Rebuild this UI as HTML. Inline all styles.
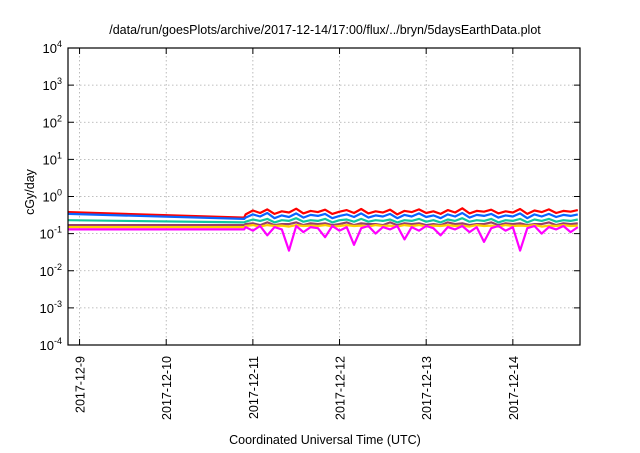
<!DOCTYPE html>
<html><head><meta charset="utf-8"><style>
body{margin:0;background:#fff;}
svg text{font-family:"Liberation Sans",sans-serif;fill:#000;}
</style></head><body>
<svg id="chart" width="640" height="448" viewBox="0 0 640 448" xmlns="http://www.w3.org/2000/svg">
<rect width="640" height="448" fill="#fff"/>
<text x="325" y="34" font-size="12.5" text-anchor="middle">/data/run/goesPlots/archive/2017-12-14/17:00/flux/../bryn/5daysEarthData.plot</text>
<text transform="translate(34,192) rotate(-90)" font-size="12.5" text-anchor="middle">cGy/day</text>
<text x="325" y="444" font-size="12.5" text-anchor="middle">Coordinated Universal Time (UTC)</text>
<g id="grid"></g><g id="series"></g><g id="axes"></g>
</svg>
<script>
const xTickLabels=["2017-12-9","2017-12-10","2017-12-11","2017-12-12","2017-12-13","2017-12-14"];
const xTickHours=[24,48,72,96,120,144];
const yTickExps=[-4,-3,-2,-1,0,1,2,3,4];
const times=[20.9,69.6,70,72,74,76,78,80,82,84,86,88,90,92,94,96,98,100,102,104,106,108,110,112,114,116,118,120,122,124,126,128,130,132,134,136,138,140,142,144,146,148,150,152,154,156,158,160,162];
const redVals=[0.38,0.27,0.33,0.42,0.36,0.45,0.34,0.40,0.37,0.47,0.35,0.41,0.38,0.44,0.34,0.39,0.43,0.36,0.46,0.35,0.40,0.37,0.44,0.33,0.41,0.38,0.45,0.36,0.40,0.34,0.43,0.37,0.48,0.35,0.41,0.39,0.44,0.35,0.40,0.37,0.46,0.34,0.42,0.38,0.45,0.36,0.41,0.39,0.43];
const blueVals=[0.34,0.25,0.27,0.33,0.29,0.36,0.26,0.31,0.28,0.35,0.27,0.32,0.30,0.34,0.26,0.30,0.33,0.28,0.35,0.27,0.31,0.29,0.34,0.26,0.32,0.29,0.35,0.28,0.31,0.26,0.33,0.29,0.36,0.27,0.32,0.30,0.34,0.27,0.31,0.29,0.35,0.26,0.33,0.29,0.34,0.28,0.32,0.30,0.33];
const greenVals=[0.23,0.20,0.21,0.24,0.22,0.25,0.20,0.23,0.22,0.26,0.21,0.23,0.22,0.25,0.20,0.23,0.24,0.21,0.25,0.21,0.23,0.22,0.24,0.20,0.23,0.22,0.25,0.21,0.23,0.20,0.24,0.22,0.26,0.21,0.23,0.22,0.25,0.20,0.23,0.22,0.25,0.20,0.24,0.22,0.25,0.21,0.23,0.22,0.24];
const brownVals=[0.17,0.17,0.18,0.19,0.17,0.20,0.17,0.18,0.18,0.20,0.17,0.19,0.18,0.19,0.17,0.18,0.20,0.17,0.19,0.18,0.18,0.17,0.20,0.17,0.19,0.18,0.19,0.17,0.18,0.17,0.20,0.18,0.19,0.17,0.18,0.18,0.20,0.17,0.19,0.18,0.19,0.17,0.18,0.18,0.20,0.17,0.19,0.18,0.19];
const yellowVals=[0.15,0.15,0.16,0.17,0.155,0.17,0.16,0.165,0.155,0.17,0.16,0.165,0.16,0.17,0.155,0.16,0.17,0.16,0.165,0.155,0.17,0.16,0.165,0.155,0.17,0.16,0.17,0.155,0.165,0.16,0.17,0.16,0.165,0.155,0.17,0.16,0.165,0.155,0.17,0.16,0.165,0.16,0.17,0.155,0.165,0.16,0.17,0.16,0.165];
const magentaVals=[0.13,0.13,0.15,0.12,0.16,0.09,0.15,0.13,0.035,0.16,0.11,0.15,0.14,0.08,0.16,0.12,0.15,0.05,0.14,0.16,0.10,0.15,0.13,0.16,0.07,0.15,0.12,0.16,0.14,0.09,0.15,0.13,0.16,0.11,0.15,0.06,0.14,0.16,0.12,0.15,0.035,0.14,0.16,0.10,0.15,0.13,0.16,0.11,0.15];
const seriesNames=["red","blue","green","brown","yellow","magenta"];
const seriesColors=["#ff0000","#0a64ff","#10c8a0","#993f6a","#ffd000","#ff00ff"];
const L=68,R=580,T=48,B=345,H0=20.8,H1=162.6;
function xs(h){return L+(h-H0)/(H1-H0)*(R-L);}
function ys(v){return B-(Math.log10(v)+4)/8*(B-T);}
const NS="http://www.w3.org/2000/svg";
function mk(p,tag,a){const e=document.createElementNS(NS,tag);for(const k in a)e.setAttribute(k,a[k]);p.appendChild(e);return e;}
const grid=document.getElementById('grid'),axes=document.getElementById('axes'),ser=document.getElementById('series');
yTickExps.forEach(e=>{const y=ys(Math.pow(10,e));
 if(e>-4&&e<4){const g=mk(grid,'line',{x1:L,x2:R,y1:y,y2:y,stroke:'#aaa','stroke-width':0.8,'stroke-dasharray':'1.5,2.5'});
 
 }
 const t1=mk(axes,'line',{x1:L,x2:L+6,y1:y,y2:y,stroke:'#000'});
 
 
 const t2=mk(axes,'line',{x1:R-6,x2:R,y1:y,y2:y,stroke:'#000'});
 
 
 const tx=mk(axes,'text',{x:L-6,y:y+5,'font-size':13,'text-anchor':'end'});
 
 
 tx.textContent='10';const s=mk(tx,'tspan',{dy:-6,'font-size':9});s.textContent=String(e);
});
xTickHours.forEach((h,i)=>{const x=xs(h);
 const g=mk(grid,'line',{x1:x,x2:x,y1:T,y2:B,stroke:'#aaa','stroke-width':0.8,'stroke-dasharray':'1.5,2.5'});
 
 
 const t1=mk(axes,'line',{x1:x,x2:x,y1:B,y2:B-6,stroke:'#000'});
 
 
 const t2=mk(axes,'line',{x1:x,x2:x,y1:T,y2:T+6,stroke:'#000'});
 
 
 const tx=mk(axes,'text',{transform:`translate(${x+5},${B+11}) rotate(-90)`,'font-size':12.5,'text-anchor':'end'});
 
 
 tx.textContent=xTickLabels[i];
});
[redVals,blueVals,greenVals,brownVals,yellowVals,magentaVals].forEach((vals,si)=>{
 const d=vals.map((v,i)=>(i?'L':'M')+xs(times[i]).toFixed(1)+','+ys(v).toFixed(1)).join(' ');
 const p=mk(ser,'path',{d:d,fill:'none',stroke:seriesColors[si],'stroke-width':2.2,'stroke-linejoin':'round'});
 
 
});
const fr=mk(axes,'rect',{x:L,y:T,width:R-L,height:B-T,fill:'none',stroke:'#000','stroke-width':1.2});


</script>
</body></html>
